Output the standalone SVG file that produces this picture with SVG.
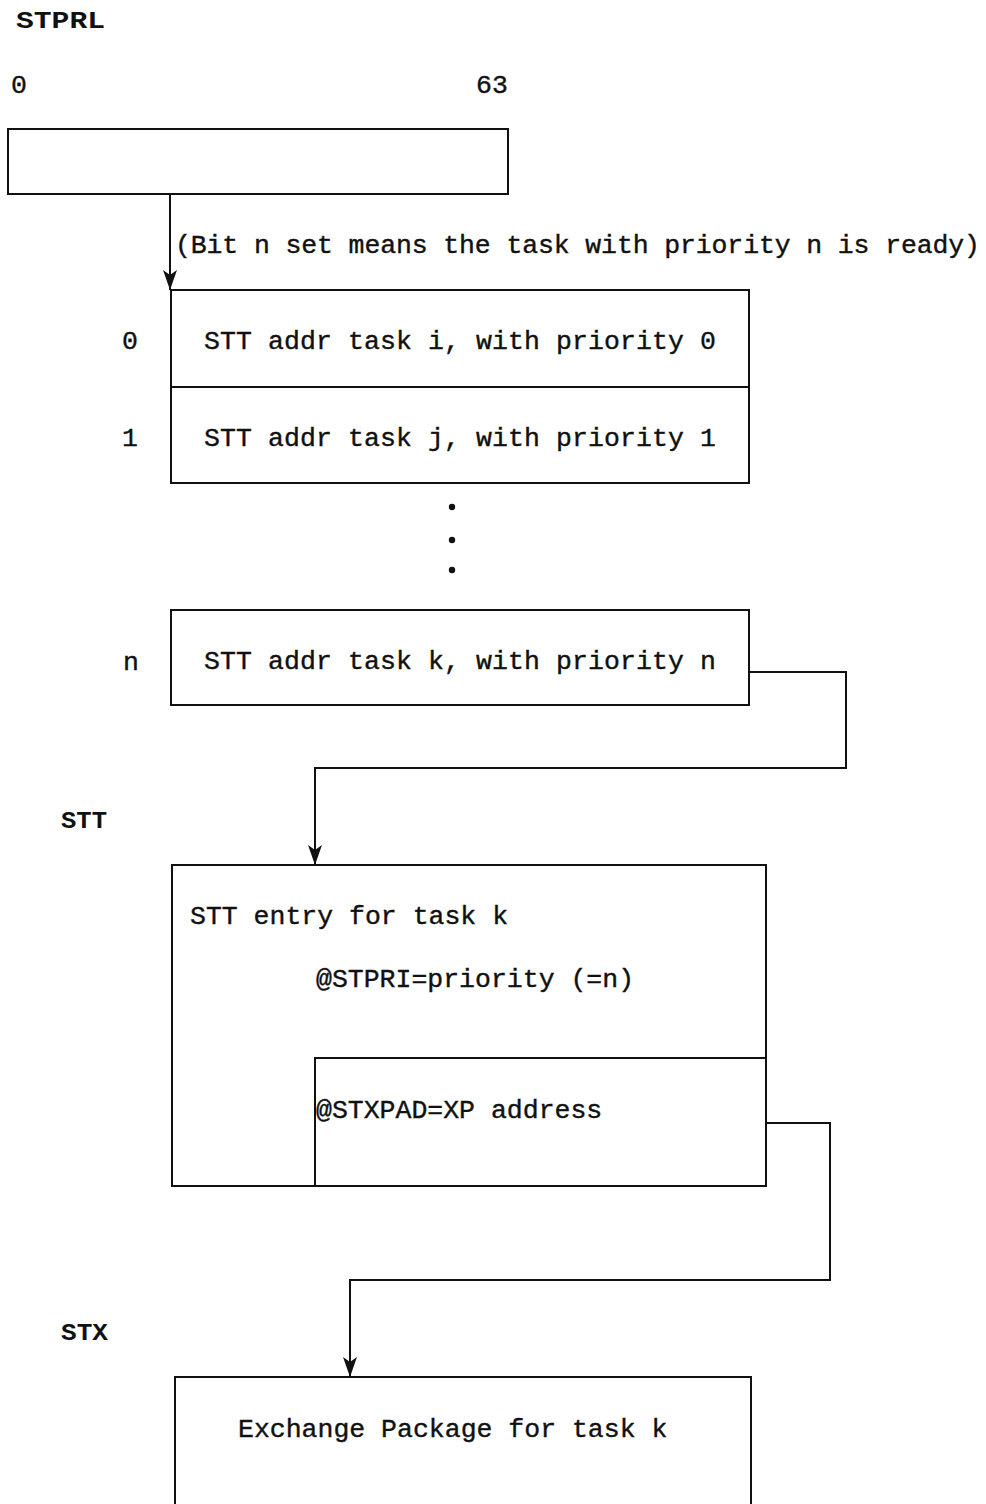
<svg xmlns="http://www.w3.org/2000/svg" width="986" height="1504" viewBox="0 0 986 1504">
<style>
.t{font-family:"Liberation Mono","Courier New",monospace;font-size:26.5px;fill:#111;stroke:#111;stroke-width:0.4px}
.lb{font-family:"Liberation Mono","Courier New",monospace;font-size:24px;font-weight:bold;fill:#111}
.box{fill:none;stroke:#111;stroke-width:2}
.ln{fill:none;stroke:#111;stroke-width:2}
</style>
<defs>
<marker id="ah" viewBox="0 0 20 14" refX="20" refY="7" markerWidth="20" markerHeight="14" markerUnits="userSpaceOnUse" orient="auto">
<path d="M0,0 L20,7 L0,14 L5,7 Z" fill="#111"/>
</marker>
</defs>
<rect width="986" height="1504" fill="#fff"/>
<g id="labels">
<text class="lb" x="16" y="28" textLength="89" lengthAdjust="spacingAndGlyphs">STPRL</text>
<text class="t" x="11" y="93">0</text>
<text class="t" x="476" y="93">63</text>
<text class="lb" x="61" y="828" textLength="46" lengthAdjust="spacingAndGlyphs">STT</text>
<text class="lb" x="61" y="1340" textLength="47" lengthAdjust="spacingAndGlyphs">STX</text>
</g>
<g id="stprl">
<rect class="box" x="8" y="129" width="500" height="65"/>
</g>
<g id="table">
<rect class="box" x="171" y="290" width="578" height="193"/>
<line class="box" x1="171" y1="387" x2="749" y2="387"/>
<text class="t" x="122" y="349">0</text>
<text class="t" x="122" y="446">1</text>
<text class="t" x="204" y="349" textLength="512">STT addr task i, with priority 0</text>
<text class="t" x="204" y="446" textLength="512">STT addr task j, with priority 1</text>
<circle cx="452" cy="507" r="3.2" fill="#111"/>
<circle cx="452" cy="540" r="3.2" fill="#111"/>
<circle cx="452" cy="570" r="3.2" fill="#111"/>
</g>
<g id="entry-n">
<rect class="box" x="171" y="610" width="578" height="95"/>
<text class="t" x="123" y="670">n</text>
<text class="t" x="204" y="669" textLength="512">STT addr task k, with priority n</text>
</g>
<g id="stt">
<rect class="box" x="172" y="865" width="594" height="321"/>
<polyline class="box" points="315,1186 315,1058 766,1058"/>
<text class="t" x="190" y="924">STT entry for task k</text>
<text class="t" x="316" y="987">@STPRI=priority (=n)</text>
<text class="t" x="316" y="1118">@STXPAD=XP address</text>
</g>
<g id="stx">
<rect class="box" x="175" y="1377" width="576" height="140"/>
<text class="t" x="238" y="1437">Exchange Package for task k</text>
</g>
<g id="connectors">
<line class="ln" x1="170" y1="194" x2="170" y2="290" marker-end="url(#ah)"/>
<text class="t" x="175" y="253" textLength="805">(Bit n set means the task with priority n is ready)</text>
<polyline class="ln" points="749,672 846,672 846,768 315,768 315,865" marker-end="url(#ah)"/>
<polyline class="ln" points="766,1123 830,1123 830,1280 350,1280 350,1377" marker-end="url(#ah)"/>
</g>
</svg>
